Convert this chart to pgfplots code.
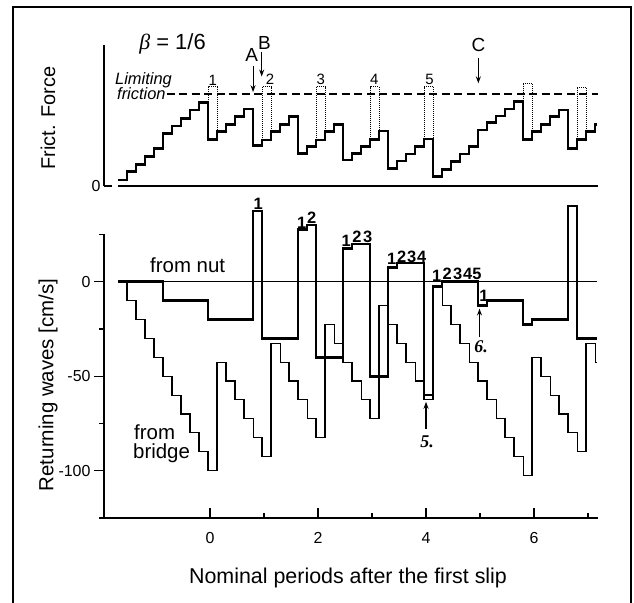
\documentclass[border=0pt]{standalone}
\usepackage{pgfplots}
\pgfplotsset{compat=1.18}
\usepackage{fontspec}
\setmainfont{Liberation Sans}
\newfontfamily\seriffont{Liberation Serif}
\usetikzlibrary{arrows.meta}
\newcommand{\fs}[1]{\fontsize{#1}{#1}\selectfont}

\begin{document}
\begin{tikzpicture}[x=1bp,y=1bp]
\useasboundingbox (0,0) rectangle (634,603);
\draw[line width=1.7bp] (13.3,-10) -- (13.3,596.3) -- (630.7,596.3) -- (630.7,-10);

% ---------------- upper panel: friction force ----------------
\begin{axis}[
  at={(104bp,417bp)}, anchor=south west, scale only axis,
  width=494bp, height=141bp,
  xmin=-1.963, xmax=7.185, ymin=0, ymax=1.533,
  axis x line=none, axis y line=left,
  axis line style={-, line width=1.3bp},
  ytick={0}, yticklabels={0}, tick align=inside,
  major tick length=8bp,
  xtick=\empty,
  clip=false,
  /pgf/number format/assume math mode=true,
  tick label style={font=\fs{16}},
  tick style={line width=1.3bp, black},
]
% baseline
\addplot[line width=1.3bp] coordinates {(-1.70,0) (7.185,0)};
% limiting friction
\addplot[line width=1.3bp, dash pattern=on 8bp off 4.5bp] coordinates {(-0.80,1) (7.185,1)};
% slip rectangles (dotted)
\addplot[line width=1bp, densely dotted] coordinates {(-0.037,0.505) (-0.037,1.08) (0.13,1.08) (0.13,0.505)};
\addplot[line width=1bp, densely dotted] coordinates {(0.963,0.5) (0.963,1.08) (1.13,1.08) (1.13,0.5)};
\addplot[line width=1bp, densely dotted] coordinates {(1.963,0.5) (1.963,1.08) (2.13,1.08) (2.13,0.5)};
\addplot[line width=1bp, densely dotted] coordinates {(2.963,0.507) (2.963,1.08) (3.13,1.08) (3.13,0.507)};
\addplot[line width=1bp, densely dotted] coordinates {(3.963,0.511) (3.963,1.08) (4.13,1.08) (4.13,0.511)};
\addplot[line width=1bp, densely dotted] coordinates {(5.797,0.507) (5.797,1.115) (5.963,1.115) (5.963,0.507)};
\addplot[line width=1bp, densely dotted] coordinates {(6.797,0.507) (6.797,1.073) (6.963,1.073) (6.963,0.507)};
% friction force staircase
\addplot[const plot, line width=2.6bp] coordinates {
(-1.703,0.065) (-1.537,0.155) (-1.370,0.236) (-1.203,0.318) (-1.037,0.410)
(-0.870,0.573) (-0.703,0.652) (-0.537,0.736) (-0.370,0.826) (-0.203,0.905)
(-0.037,0.505) (0.130,0.590) (0.297,0.670) (0.463,0.753) (0.630,0.837)
(0.797,0.438) (0.963,0.500) (1.130,0.590) (1.297,0.670) (1.463,0.755)
(1.630,0.355) (1.797,0.427) (1.963,0.500) (2.130,0.590) (2.297,0.670)
(2.463,0.283) (2.630,0.355) (2.797,0.427) (2.963,0.507) (3.130,0.598)
(3.297,0.192) (3.463,0.272) (3.630,0.348) (3.797,0.427) (3.963,0.511)
(4.130,0.101) (4.297,0.182) (4.463,0.264) (4.630,0.348) (4.797,0.427)
(4.963,0.609) (5.130,0.688) (5.297,0.761) (5.463,0.837) (5.630,0.916)
(5.797,0.507) (5.963,0.590) (6.130,0.670) (6.297,0.753) (6.463,0.826)
(6.630,0.410) (6.797,0.507) (6.963,0.590) (7.130,0.670) (7.170,0.670)};
% annotations
\node[font=\fs{22}, anchor=base] at (axis cs:-0.694,1.489) {{\seriffont\itshape β} = 1/6};
\node[font=\fs{16.5}\itshape, anchor=base east, inner sep=1bp] at (axis cs:-0.685,1.098) {Limiting};
\node[font=\fs{16.5}\itshape, anchor=base east, inner sep=1bp] at (axis cs:-0.80,0.935) {friction};
\node[font=\fs{19}, anchor=base] at (axis cs:0.772,1.351) {A};
\node[font=\fs{19}, anchor=base] at (axis cs:1.006,1.486) {B};
\node[font=\fs{19}, anchor=base] at (axis cs:4.969,1.46) {C};
\draw[-{Stealth[length=7bp,width=5bp]}, line width=1.1bp] (axis cs:0.797,1.30) -- (axis cs:0.797,1.02);
\draw[-{Stealth[length=7bp,width=5bp]}, line width=1.1bp] (axis cs:0.957,1.46) -- (axis cs:0.957,1.19);
\draw[-{Stealth[length=7bp,width=5bp]}, line width=1.1bp] (axis cs:4.969,1.39) -- (axis cs:4.969,1.116);
\node[font=\fs{15}, anchor=base] at (axis cs:0.05,1.09) {1};
\node[font=\fs{15}, anchor=base] at (axis cs:1.11,1.098) {2};
\node[font=\fs{15}, anchor=base] at (axis cs:2.05,1.098) {3};
\node[font=\fs{15}, anchor=base] at (axis cs:3.04,1.105) {4};
\node[font=\fs{15}, anchor=base] at (axis cs:4.065,1.105) {5};
\end{axis}

% ---------------- lower panel: returning waves ----------------
\begin{axis}[
  at={(104bp,85bp)}, anchor=south west, scale only axis,
  width=494bp, height=283.5bp,
  xmin=-1.963, xmax=7.185, ymin=-125, ymax=25,
  axis x line=bottom, axis y line=left,
  axis line style={-, line width=1.3bp},
  xtick={0,2,4,6}, minor xtick={1,3,5,7},
  ytick={-100,-50,0}, minor ytick={-125,-75,-25,25},
  xtick align=inside, ytick align=outside,
  major tick length=10bp, minor tick length=5bp,
  clip=false,
  /pgf/number format/assume math mode=true,
  tick label style={font=\fs{16}},
  xticklabel style={yshift=-11bp},
  tick style={line width=1.2bp, black},
]
\addplot[line width=0.8bp] coordinates {(-1.70,0) (7.17,0)};
% wave from bridge (thin)
\addplot[const plot, line width=1.1bp] coordinates {
(-1.703,0) (-1.537,-10) (-1.370,-20) (-1.203,-30) (-1.037,-40)
(-0.870,-50) (-0.703,-60) (-0.537,-70) (-0.370,-80) (-0.203,-90)
(-0.037,-100) (0.130,-42.5) (0.297,-52.5) (0.463,-62.5) (0.630,-72.5)
(0.797,-82.5) (0.963,-92.5) (1.130,-32.5) (1.297,-42.5) (1.463,-52.5)
(1.630,-62.5) (1.797,-72.5) (1.963,-82.5) (2.130,-22.5) (2.297,-32.5)
(2.463,-42.5) (2.630,-52.5) (2.797,-62.5) (2.963,-72.5) (3.130,-12.5)
(3.297,-22.5) (3.463,-32.5) (3.630,-42.5) (3.797,-52.5) (3.963,-62.5)
(4.130,-2.5) (4.297,-12.5) (4.463,-22.5) (4.630,-32.5) (4.797,-42.5)
(4.963,-52.5) (5.130,-62.5) (5.297,-72.5) (5.463,-82.5) (5.630,-92.5)
(5.797,-102.5) (5.963,-40) (6.130,-50) (6.297,-60) (6.463,-70)
(6.630,-80) (6.797,-90) (6.963,-32.5) (7.130,-42.5) (7.160,-42.5)};
% wave from nut (thick)
\addplot[const plot, line width=2.6bp] coordinates {
(-1.703,0) (-0.870,-10) (-0.037,-20) (0.797,37.5) (0.963,-30)
(1.630,27.5) (1.797,30) (1.963,-40) (2.463,17.5) (2.630,20)
(2.963,-50) (3.297,7.5) (3.463,10) (3.963,-60) (4.130,-2.5)
(4.297,0) (4.963,-12.5) (5.130,-10) (5.797,-22.5) (5.963,-20)
(6.630,40) (6.797,-30) (7.170,-30)};
% labels
\node[font=\fs{20.5}, anchor=base west, inner sep=0pt] at (axis cs:-1.111,4.9) {from nut};
\node[font=\fontsize{20.5}{19.5}\selectfont, align=left, anchor=north west, inner sep=0pt] at (axis cs:-1.426,-75.3) {\hspace*{1bp}from\\bridge};
\node[font=\fs{16.5}\bfseries] at (axis cs:0.894,41.1) {1};
\node[font=\fs{16.5}\bfseries] at (axis cs:1.70,31.4) {1};
\node[font=\fs{16.5}\bfseries] at (axis cs:1.883,33.6) {2};
\node[font=\fs{16.5}\bfseries] at (axis cs:2.52,21.7) {1};
\node[font=\fs{16.5}\bfseries] at (axis cs:2.72,23.8) {2};
\node[font=\fs{16.5}\bfseries] at (axis cs:2.92,23.8) {3};
\node[font=\fs{16.5}\bfseries] at (axis cs:3.365,12.0) {1};
\node[font=\fs{16.5}\bfseries] at (axis cs:3.55,13.2) {2};
\node[font=\fs{16.5}\bfseries] at (axis cs:3.735,13.2) {3};
\node[font=\fs{16.5}\bfseries] at (axis cs:3.92,13.2) {4};
\node[font=\fs{16.5}\bfseries] at (axis cs:4.198,3.2) {1};
\node[font=\fs{16.5}\bfseries] at (axis cs:4.394,4.2) {2};
\node[font=\fs{16.5}\bfseries] at (axis cs:4.587,4.2) {3};
\node[font=\fs{16.5}\bfseries] at (axis cs:4.772,4.2) {4};
\node[font=\fs{16.5}\bfseries] at (axis cs:4.945,4.2) {5};
\node[font=\fs{16.5}\bfseries] at (axis cs:5.074,-7.4) {1};
\draw[-{Stealth[length=7bp,width=5bp]}, line width=1.1bp] (axis cs:4.0,-78) -- (axis cs:4.0,-63.5);
\draw[-{Stealth[length=7bp,width=5bp]}, line width=1.1bp] (axis cs:4.99,-29.5) -- (axis cs:4.99,-14.2);
\node[font=\fs{18}\seriffont\bfseries\itshape] at (axis cs:4.02,-84.7) {5.};
\node[font=\fs{18}\seriffont\bfseries\itshape] at (axis cs:5.02,-34.4) {6.};
\end{axis}

% axis labels
\node[rotate=90, font=\fs{20}] at (48,485) {Frict. Force};
\node[rotate=90, font=\fs{20.5}] at (48,218) {Returning waves [cm/s]};
\node[font=\fs{21.5}] at (348,25) {Nominal periods after the first slip};
\end{tikzpicture}
\end{document}
